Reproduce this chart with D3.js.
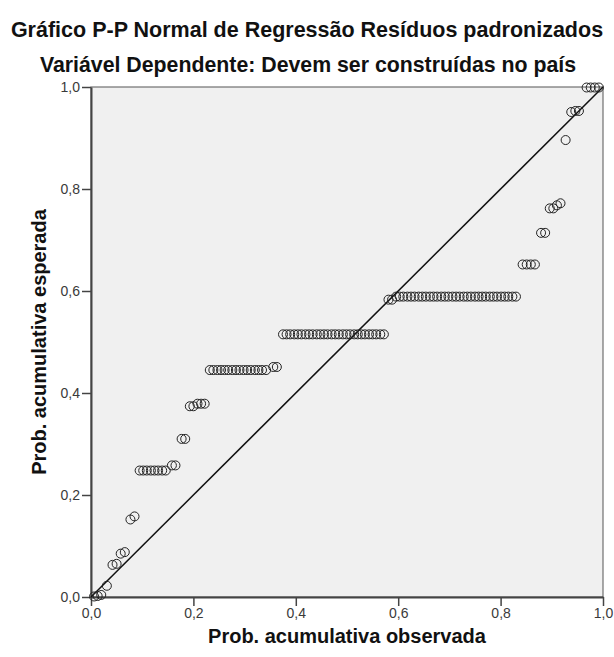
<!DOCTYPE html>
<html>
<head>
<meta charset="utf-8">
<script src="https://cdn.jsdelivr.net/npm/d3@7"></script>
<style>
  html, body { margin: 0; padding: 0; background: #fff; overflow: hidden; }
  svg { display: block; }
</style>
</head>
<body>
<svg></svg>
<script>
// Data
const title = "Gráfico P-P Normal de Regressão Resíduos padronizados";
const subtitle = "Variável Dependente: Devem ser construídas no país";
const xLabel = "Prob. acumulativa observada";
const yLabel = "Prob. acumulativa esperada";
const tickValues = [0, 0.2, 0.4, 0.6, 0.8, 1.0];

// observed cumulative probability (x) for each residual
const observed = [
  0.006, 0.013, 0.020, 0.031, 0.042, 0.050, 0.058, 0.066, 0.077, 0.085,
  0.095, 0.102, 0.109, 0.117, 0.124, 0.131, 0.139, 0.146,
  0.158, 0.165, 0.177, 0.184,
  0.193, 0.200, 0.208, 0.215, 0.222,
  0.232, 0.239, 0.247, 0.254, 0.261, 0.268, 0.276, 0.283, 0.290, 0.298, 0.305, 0.312, 0.320, 0.327, 0.334, 0.342,
  0.356, 0.363,
  0.375, 0.382, 0.389, 0.397, 0.404, 0.411, 0.419, 0.426, 0.433, 0.441, 0.448, 0.455, 0.462, 0.470,
  0.477, 0.484, 0.492, 0.499, 0.506, 0.514, 0.521, 0.528, 0.535, 0.543, 0.550, 0.557, 0.565, 0.572,
  0.581, 0.588,
  0.596, 0.603, 0.610, 0.618, 0.625, 0.632, 0.640, 0.647, 0.654, 0.662, 0.669, 0.676, 0.684, 0.691,
  0.698, 0.706, 0.713, 0.720, 0.728, 0.735, 0.742, 0.750, 0.757, 0.764, 0.771, 0.779, 0.786, 0.793,
  0.801, 0.808, 0.815, 0.823, 0.830,
  0.843, 0.851, 0.859, 0.867,
  0.879, 0.887,
  0.896, 0.903, 0.910, 0.917,
  0.927,
  0.938, 0.946, 0.953,
  0.968, 0.976, 0.984, 0.992
];

// expected cumulative probability (y)
const expected = [
  0.001, 0.002, 0.004, 0.022, 0.063, 0.065, 0.085, 0.088, 0.152, 0.158,
  0.248, 0.248, 0.248, 0.248, 0.248, 0.248, 0.248, 0.248,
  0.258, 0.258, 0.310, 0.310,
  0.374, 0.374, 0.379, 0.379, 0.379,
  0.445, 0.445, 0.445, 0.445, 0.445, 0.445, 0.445, 0.445, 0.445, 0.445, 0.445, 0.445, 0.445, 0.445, 0.445, 0.445,
  0.451, 0.451,
  0.515, 0.515, 0.515, 0.515, 0.515, 0.515, 0.515, 0.515, 0.515, 0.515, 0.515, 0.515, 0.515, 0.515,
  0.515, 0.515, 0.515, 0.515, 0.515, 0.515, 0.515, 0.515, 0.515, 0.515, 0.515, 0.515, 0.515, 0.515,
  0.583, 0.583,
  0.589, 0.589, 0.589, 0.589, 0.589, 0.589, 0.589, 0.589, 0.589, 0.589, 0.589, 0.589, 0.589, 0.589,
  0.589, 0.589, 0.589, 0.589, 0.589, 0.589, 0.589, 0.589, 0.589, 0.589, 0.589, 0.589, 0.589, 0.589,
  0.589, 0.589, 0.589, 0.589, 0.589,
  0.652, 0.652, 0.652, 0.652,
  0.714, 0.714,
  0.762, 0.762, 0.768, 0.772,
  0.896,
  0.951, 0.953, 0.953,
  0.999, 0.999, 0.999, 0.999
];

const points = observed.map((x, i) => ({ x: x, y: expected[i] }));

const width = 614, height = 657;
const margin = { top: 87, right: 11, bottom: 60, left: 91 };
const innerWidth = width - margin.left - margin.right;
const innerHeight = height - margin.top - margin.bottom;
const font = "Liberation Sans, Arial, sans-serif";

const svg = d3.select("svg")
  .attr("width", width).attr("height", height)
  .attr("viewBox", `0 0 ${width} ${height}`)
  .attr("font-family", font);

const x = d3.scaleLinear().domain([0, 1]).range([0, innerWidth]);
const y = d3.scaleLinear().domain([0, 1]).range([innerHeight, 0]);
const fmt = d => d3.format(".1f")(d).replace(".", ",");

// titles
svg.append("text")
  .attr("x", width / 2).attr("y", 37)
  .attr("text-anchor", "middle")
  .attr("font-size", 21.5).attr("font-weight", "bold").attr("fill", "#111")
  .text(title);
svg.append("text")
  .attr("x", width / 2 + 1).attr("y", 72)
  .attr("text-anchor", "middle")
  .attr("font-size", 21.3).attr("font-weight", "bold").attr("fill", "#111")
  .text(subtitle);

const g = svg.append("g").attr("transform", `translate(${margin.left},${margin.top})`);

// plot background
g.append("rect")
  .attr("width", innerWidth).attr("height", innerHeight)
  .attr("fill", "#f0f0f0").attr("stroke", "#555").attr("stroke-width", 1);

// axes
const xAxis = g.append("g")
  .attr("transform", `translate(0,${innerHeight})`)
  .call(d3.axisBottom(x).tickValues(tickValues).tickFormat(fmt).tickSize(9).tickPadding(2).tickSizeOuter(0));
const yAxis = g.append("g")
  .call(d3.axisLeft(y).tickValues(tickValues).tickFormat(fmt).tickSize(9).tickPadding(2).tickSizeOuter(0));

[xAxis, yAxis].forEach(a => {
  a.attr("font-size", 14).attr("font-family", font);
  a.select(".domain").attr("stroke", "#444").attr("stroke-width", 2);
  a.selectAll(".tick line").attr("stroke", "#444").attr("stroke-width", 1.5);
  a.selectAll(".tick text").attr("fill", "#3a3a3a");
});

// reference line
g.append("line")
  .attr("x1", x(0)).attr("y1", y(0))
  .attr("x2", x(1)).attr("y2", y(1))
  .attr("stroke", "#111").attr("stroke-width", 1.5);

// points
g.selectAll("circle")
  .data(points)
  .enter().append("circle")
  .attr("cx", d => x(d.x))
  .attr("cy", d => y(d.y))
  .attr("r", 4.5)
  .attr("fill", "none")
  .attr("stroke", "#222")
  .attr("stroke-width", 1);

// axis labels
svg.append("text")
  .attr("x", margin.left + innerWidth / 2).attr("y", 643)
  .attr("text-anchor", "middle")
  .attr("font-size", 20).attr("font-weight", "bold").attr("fill", "#111")
  .text(xLabel);
svg.append("text")
  .attr("transform", `translate(46,${margin.top + innerHeight / 2}) rotate(-90)`)
  .attr("text-anchor", "middle")
  .attr("font-size", 20).attr("font-weight", "bold").attr("fill", "#111")
  .text(yLabel);
</script>
</body>
</html>
